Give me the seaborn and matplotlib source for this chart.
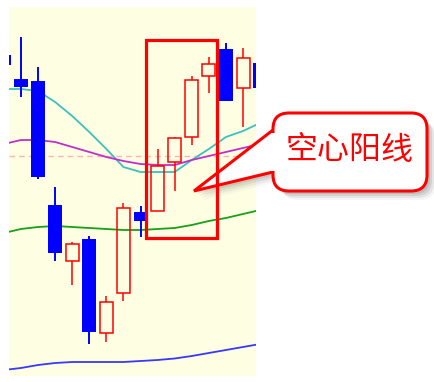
#Importing Libraries
import numpy as np
import pandas as pd
import matplotlib
matplotlib.use('Agg')
import matplotlib.pyplot as plt
import seaborn as sns
from matplotlib.patches import Rectangle, FancyBboxPatch, Polygon

#Candle data (price units)
opens  = [44.5, 42.1, 41.9, 29.5, 23.9, 26.1, 16.7, 20.7, 28.8, 28.9, 33.8, 36.3, 42.4, 45.1, 41.2, 43.7]
closes = [43.5, 41.3, 32.3, 24.7, 25.6, 16.8, 19.8, 29.2, 27.9, 33.4, 36.2, 42.0, 43.6, 39.9, 44.2, 41.2]
highs  = [44.5, 46.3, 43.3, 31.3, 25.8, 26.4, 20.4, 29.7, 29.4, 35.1, 36.3, 42.4, 44.3, 45.7, 45.2, 43.7]
lows   = [43.5, 40.3, 32.1, 23.9, 21.5, 15.6, 15.8, 19.9, 26.3, 28.9, 30.9, 35.5, 40.7, 39.9, 37.3, 41.2]

#Moving averages
ma_cyan    = [41.1, 41.1, 40.9, 39.8, 38.4, 36.8, 35.1, 33.3, 32.8, 32.8, 32.8, 34.0, 35.1, 36.3, 36.9, 37.7]
ma_magenta = [35.6, 36.0, 36.0, 35.8, 35.3, 34.8, 34.3, 33.9, 33.6, 33.5, 33.5, 34.0, 34.4, 34.8, 35.2, 35.6]
ma_green   = [26.7, 27.1, 27.3, 27.4, 27.3, 27.2, 27.1, 27.0, 27.0, 27.1, 27.2, 27.5, 27.9, 28.2, 28.6, 29.0]
ma_blue    = [13.0, 13.2, 13.5, 13.7, 13.8, 13.8, 13.8, 13.8, 13.9, 14.0, 14.15, 14.4, 14.7, 15.0, 15.3, 15.6]
ref_level = 34.4

#Highlighted range and label
box_x = (8.3, 12.45)
box_y = (26.2, 46.0)
label = "空心阳线"

df = pd.DataFrame({'i': np.arange(len(opens)), 'cyan': ma_cyan, 'magenta': ma_magenta,
                   'green': ma_green, 'blue': ma_blue})

sns.set_style('white')
plt.rcParams['font.family'] = ['Noto Sans CJK SC', 'DejaVu Sans']

red = '#FF0000'
blue = '#0000FF'
panel = '#FEFEE3'

fig = plt.figure(figsize=(4.34, 3.82), dpi=100)
fig.patch.set_facecolor('white')
ax = fig.add_axes([9/434, 1 - 376/382, 247/434, 369/382])
ax.set_facecolor(panel)

#Moving average lines
sns.lineplot(data=df, x='i', y='cyan', color='#3CC0C0', lw=1.3, ax=ax, zorder=2)
sns.lineplot(data=df, x='i', y='magenta', color='#C030C8', lw=1.3, ax=ax, zorder=2)
sns.lineplot(data=df, x='i', y='green', color='#18A018', lw=1.3, ax=ax, zorder=2)
sns.lineplot(data=df, x='i', y='blue', color='#3838FF', lw=1.3, ax=ax, zorder=2)
ax.axhline(ref_level, color='#FFB4B4', lw=1.0, dashes=(4, 3), zorder=1)

#Candles
for i in range(len(opens)):
    o, c, h, l = opens[i], closes[i], highs[i], lows[i]
    if c >= o:
        ax.add_patch(Rectangle((i - 0.38, o), 0.76, c - o, fill=False, ec=red, lw=1.1, zorder=4))
        ax.vlines(i, c, h, color=red, lw=1.1, zorder=4)
        ax.vlines(i, l, o, color=red, lw=1.1, zorder=4)
    else:
        ax.vlines(i, l, h, color=blue, lw=1.4, zorder=3)
        ax.add_patch(Rectangle((i - 0.41, c), 0.82, o - c, fc=blue, ec='none', zorder=4))

ax.set_xlim(0.3, 14.76)
ax.set_ylim(12.4, 49.3)
ax.set_xticks([])
ax.set_yticks([])
ax.set_xlabel('')
ax.set_ylabel('')
for s in ax.spines.values():
    s.set_visible(False)

#Overlay in pixel coordinates for the callout
ov = fig.add_axes([0, 0, 1, 1])
ov.set_xlim(0, 434)
ov.set_ylim(382, 0)
ov.axis('off')
ov.patch.set_alpha(0)

bx, by, bw, bh = 273, 113, 154, 78
tail = [(273, 130), (194, 191), (273, 172)]

#shadow
for d, a in [(3, 0.18), (5, 0.15), (7, 0.10), (9, 0.06)]:
    ov.add_patch(FancyBboxPatch((bx + d, by + d), bw, bh, boxstyle='round,pad=0,rounding_size=16',
                                fc='#606060', ec='none', alpha=a, zorder=1))
    ov.add_patch(Polygon([(x + d, y + d) for x, y in tail], closed=True, fc='#606060',
                         ec='none', alpha=a * 0.8, zorder=1))

ov.add_patch(Polygon(tail, closed=True, fc='white', ec=red, lw=2.2, joinstyle='miter', zorder=2))
ov.add_patch(FancyBboxPatch((bx, by), bw, bh, boxstyle='round,pad=0,rounding_size=16',
                            fc='white', ec=red, lw=2.2, zorder=3))
ov.add_patch(Rectangle((270.5, 132.5), 6, 38, fc='white', ec='none', zorder=4))
ov.text(350, 150, label, color=red, fontsize=23, fontweight='normal', ha='center', va='center',
        family=['Noto Sans CJK SC', 'DejaVu Sans'], zorder=5)

#Highlight rectangle over the hollow candles
ov.add_patch(Rectangle((box_x[0], box_y[0]), box_x[1] - box_x[0], box_y[1] - box_y[0],
                       fill=False, ec=red, lw=2.3, transform=ax.transData, zorder=6))

plt.savefig('out.png', dpi=100, facecolor='white')
